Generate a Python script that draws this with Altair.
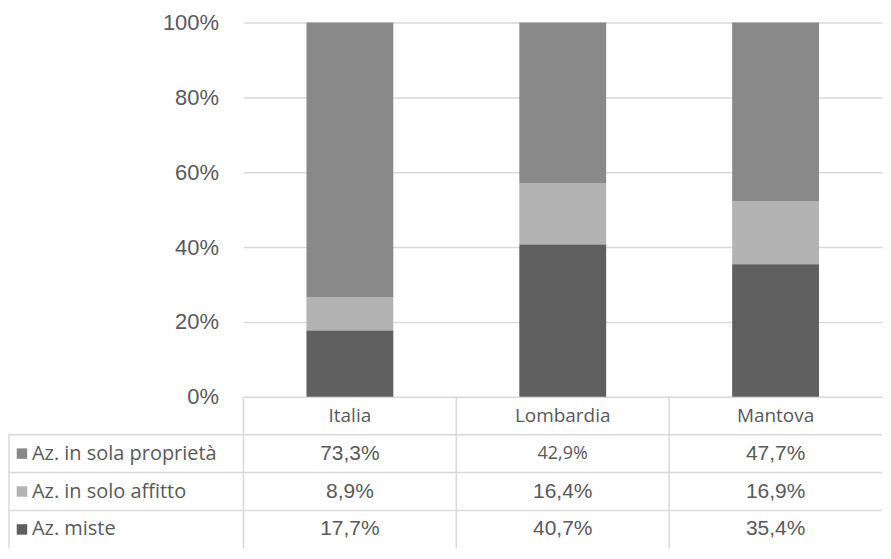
import altair as alt
import pandas as pd

categories = ["Italia", "Lombardia", "Mantova"]
series = ["Az. in sola proprietà", "Az. in solo affitto", "Az. miste"]
proprieta = [73.3, 42.9, 47.7]
affitto = [8.9, 16.4, 16.9]
miste = [17.7, 40.7, 35.4]
colors = ["#898989", "#b3b3b3", "#5f5f5f"]
y_ticks = [0, 0.2, 0.4, 0.6, 0.8, 1.0]

records = []
for si, (s, vals) in enumerate(zip(series, [proprieta, affitto, miste])):
    for c, v in zip(categories, vals):
        records.append({
            "category": c, "series": s, "value": v,
            "stack_order": len(series) - 1 - si,
            "label": f"{v:.1f}%".replace(".", ","), "row": s,
        })
df = pd.DataFrame(records)
header_df = pd.DataFrame({"category": categories, "row": ["header"] * len(categories)})
series_df = pd.DataFrame({"series": series, "row": series})
one_df = pd.DataFrame({"a": [0]})

W, H = 640, 375
ROW_H = 38
LEFT = -235
GRID = "#d9d9d9"
TXT = "#595959"

x_scale = alt.Scale(domain=categories, paddingInner=0, paddingOuter=0)
row_scale = alt.Scale(type="band", domain=["header"] + series,
                      range=[H, H + ROW_H * 4], paddingInner=0, paddingOuter=0)
color_scale = alt.Scale(domain=series, range=colors)

xenc = alt.X("category:N", scale=x_scale, axis=None, sort=categories)
yrow = alt.Y("row:N", scale=row_scale, axis=None)

bars = alt.Chart(df).mark_bar(width=alt.RelativeBandSize(0.408)).encode(
    x=xenc,
    y=alt.Y("value:Q", stack="normalize", scale=alt.Scale(domain=[0, 1]),
            axis=alt.Axis(values=y_ticks, format=".0%", title=None, grid=True,
                          gridColor=GRID, gridWidth=1.5, domain=False, ticks=False,
                          labelFont="Liberation Sans", labelFontSize=22,
                          labelColor=TXT, labelPadding=25)),
    color=alt.Color("series:N", scale=color_scale, legend=None),
    order=alt.Order("stack_order:Q"),
)

hlines = alt.Chart(series_df).mark_rule(color=GRID, strokeWidth=1.5).encode(
    y=alt.Y("row:N", scale=row_scale, axis=None, bandPosition=0),
    x=alt.value(LEFT), x2=alt.value(W),
)

vlines = alt.Chart(header_df).mark_rule(color=GRID, strokeWidth=1.5).encode(
    x=alt.X("category:N", scale=x_scale, axis=None, sort=categories, bandPosition=0),
    y=alt.value(H), y2=alt.value(H + ROW_H * 4),
)

left_border = alt.Chart(one_df).mark_rule(color=GRID, strokeWidth=1.5).encode(
    x=alt.value(LEFT), y=alt.value(H + ROW_H), y2=alt.value(H + ROW_H * 4),
)

header = alt.Chart(header_df).mark_text(font="Open Sans", fontSize=19, color=TXT).encode(
    x=xenc, y=yrow, text="category:N",
)

values = alt.Chart(df).transform_filter(
    "datum.label != '42,9%'"
).mark_text(font="Liberation Sans", fontSize=21, color=TXT).encode(
    x=xenc, y=yrow, text="label:N",
)

values_small = alt.Chart(df).transform_filter(
    "datum.label == '42,9%'"
).mark_text(font="Open Sans", fontSize=18, color=TXT).encode(
    x=xenc, y=yrow, text="label:N",
)

squares = alt.Chart(series_df).mark_square(size=110, opacity=1).encode(
    x=alt.value(LEFT + 13), y=yrow,
    color=alt.Color("series:N", scale=color_scale, legend=None),
)

row_labels = alt.Chart(series_df).mark_text(font="Open Sans", fontSize=20, color=TXT,
                                            align="left").encode(
    x=alt.value(LEFT + 23), y=yrow, text="series:N",
)

chart = alt.layer(
    bars, hlines, vlines, left_border, header, values, values_small, squares, row_labels
).resolve_scale(y="independent").properties(
    width=W, height=H,
    padding={"left": 0, "top": 3, "right": 0, "bottom": 0},
).configure_view(stroke=None)

chart.save("out.html", embed_options={"renderer": "svg", "actions": False})
